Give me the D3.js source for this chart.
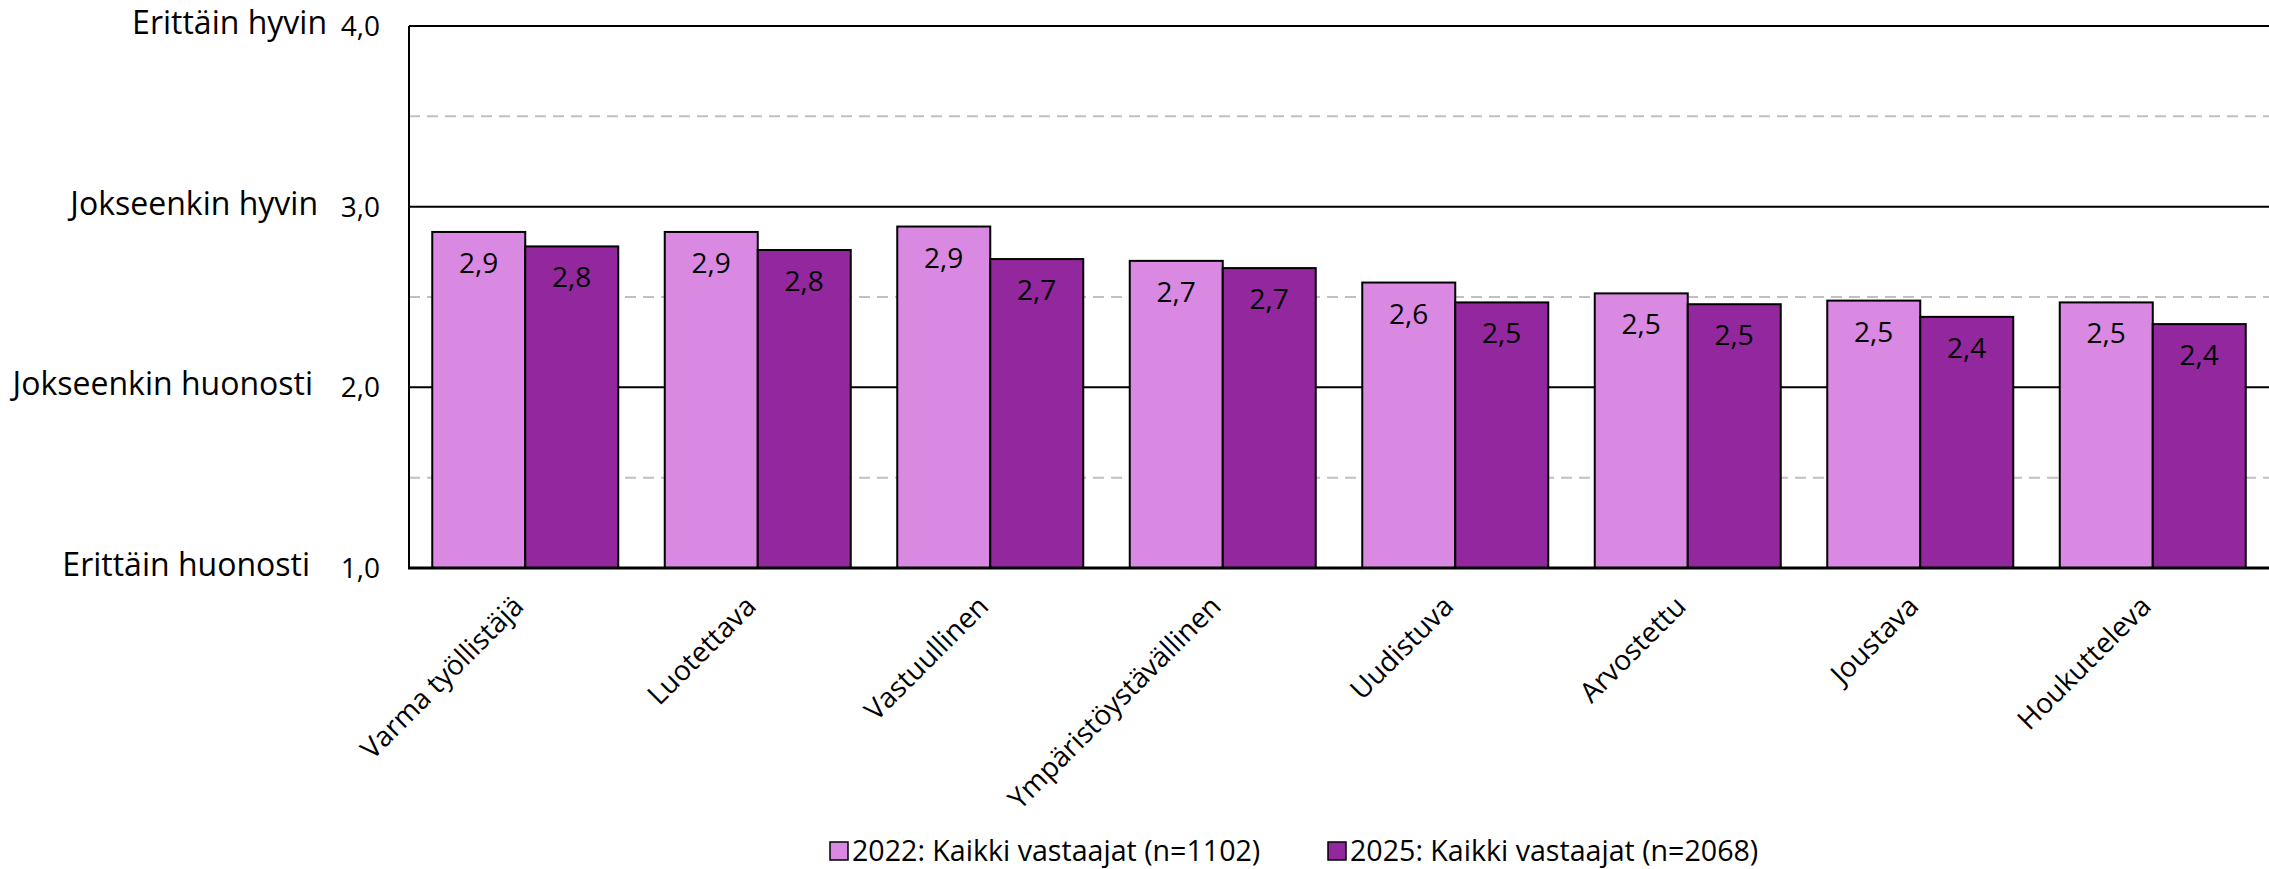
<!DOCTYPE html>
<html>
<head>
	<meta charset="utf-8">
	<script src="https://cdn.jsdelivr.net/npm/d3@7"></script>
	<style>
		html, body {
			padding: 0;
			margin: 0;
			background: white;
		}
		text {
			font-family: "Open Sans", sans-serif;
			fill: #000;
		}
	</style>
</head>
<body>
	<div id="chart"></div>

	<script>
		// data
		var categories = ["Varma työllistäjä", "Luotettava", "Vastuullinen", "Ympäristöystävällinen",
			"Uudistuva", "Arvostettu", "Joustava", "Houkutteleva"];
		var values2022 = [2.86, 2.86, 2.89, 2.70, 2.58, 2.52, 2.48, 2.47];
		var values2025 = [2.78, 2.76, 2.71, 2.66, 2.47, 2.46, 2.39, 2.35];
		var seriesNames = ["2022: Kaikki vastaajat (n=1102)", "2025: Kaikki vastaajat (n=2068)"];
		var seriesColors = ["#DA89E3", "#93279D"];
		var yTicks = [1, 2, 3, 4];
		var yLevelLabels = ["Erittäin huonosti", "Jokseenkin huonosti", "Jokseenkin hyvin", "Erittäin hyvin"];
		var yDashed = [1.5, 2.5, 3.5];

		var width = 2269, height = 869;
		// plot area (don't call it "top", window.top is read-only)
		var plotL = 409, plotR = 2269, plotT = 26, plotB = 568;
		// the level texts were loose text boxes, their right edges differ a bit
		var levelRight = [310, 313, 318, 327];

		var svg = d3.select("#chart").append("svg")
			.attr("width", width)
			.attr("height", height);

		var x = d3.scaleBand().domain(categories).range([plotL, plotR])
			.paddingInner(0.2).paddingOuter(0.1);
		var xs = d3.scaleBand().domain([0, 1]).range([0, x.bandwidth()]);
		var y = d3.scaleLinear().domain([1, 4]).range([plotB, plotT]);

		var comma = function(v, d) { return d3.format(d)(v).replace(".", ","); };

		// dashed half-step grid
		svg.selectAll(".dash").data(yDashed).enter().append("line")
			.attr("x1", plotL).attr("x2", plotR)
			.attr("y1", function(d) { return y(d); })
			.attr("y2", function(d) { return y(d); })
			.attr("stroke", "#c0c0c0")
			.attr("stroke-width", 2)
			.attr("stroke-dasharray", "11,7");

		// solid grid
		svg.selectAll(".grid").data([2, 3, 4]).enter().append("line")
			.attr("x1", plotL).attr("x2", plotR)
			.attr("y1", function(d) { return y(d); })
			.attr("y2", function(d) { return y(d); })
			.attr("stroke", "#000")
			.attr("stroke-width", 2);

		// bars
		var rows = categories.map(function(c, i) { return {cat: c, vals: [values2022[i], values2025[i]]}; });

		var groups = svg.selectAll(".grp").data(rows).enter().append("g")
			.attr("transform", function(d) { return "translate(" + x(d.cat) + ",0)"; });

		groups.selectAll("rect").data(function(d) { return d.vals; }).enter().append("rect")
			.attr("x", function(d, i) { return xs(i); })
			.attr("y", function(d) { return y(d); })
			.attr("width", xs.bandwidth())
			.attr("height", function(d) { return y(1) - y(d); })
			.attr("fill", function(d, i) { return seriesColors[i]; })
			.attr("stroke", "#000")
			.attr("stroke-width", 2);

		groups.selectAll(".lbl").data(function(d) { return d.vals; }).enter().append("text")
			.attr("x", function(d, i) { return xs(i) + xs.bandwidth() / 2; })
			.attr("y", function(d) { return y(d) + 41; })
			.attr("text-anchor", "middle")
			.style("font-size", "28px")
			.text(function(d) { return comma(d, ".1f"); });

		// axes lines
		svg.append("line").attr("x1", plotL).attr("x2", plotL).attr("y1", plotT).attr("y2", plotB)
			.attr("stroke", "#000").attr("stroke-width", 2);
		svg.append("line").attr("x1", plotL - 1).attr("x2", plotR).attr("y1", plotB).attr("y2", plotB)
			.attr("stroke", "#000").attr("stroke-width", 3);

		// y tick labels
		svg.selectAll(".ytick").data(yTicks).enter().append("text")
			.attr("x", 380)
			.attr("y", function(d) { return y(d) + 10; })
			.attr("text-anchor", "end")
			.style("font-size", "28px")
			.text(function(d) { return comma(d, ".1f"); });

		svg.selectAll(".ylevel").data(yTicks).enter().append("text")
			.attr("x", function(d, i) { return levelRight[i]; })
			.attr("y", function(d) { return y(d) + 8; })
			.attr("text-anchor", "end")
			.style("font-size", "32px")
			.text(function(d, i) { return yLevelLabels[i]; });

		// category labels
		svg.selectAll(".xlab").data(categories).enter().append("text")
			.attr("transform", function(d) {
				return "translate(" + (x(d) + x.bandwidth() / 2) + ",608) rotate(-45)";
			})
			.attr("text-anchor", "end")
			.style("font-size", "28px")
			.text(function(d) { return d; });

		// legend
		var legendX = [830, 1328];
		var legend = svg.selectAll(".leg").data(seriesNames).enter().append("g")
			.attr("transform", function(d, i) { return "translate(" + legendX[i] + ",842)"; });
		legend.append("rect")
			.attr("width", 18).attr("height", 18)
			.attr("fill", function(d, i) { return seriesColors[i]; })
			.attr("stroke", "#000").attr("stroke-width", 1.5);
		legend.append("text")
			.attr("x", 22).attr("y", 19)
			.style("font-size", "28.6px")
			.text(function(d) { return d; });
	</script>
</body>
</html>
